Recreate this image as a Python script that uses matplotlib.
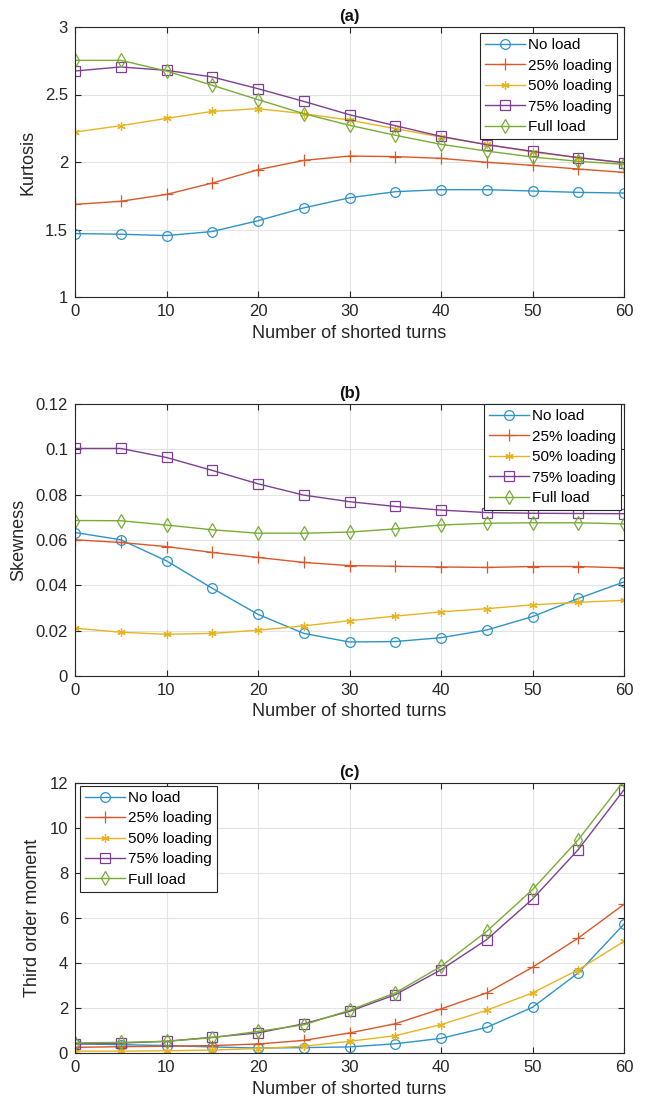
import matplotlib
matplotlib.use("Agg")
import matplotlib.pyplot as plt

plt.rcParams['font.family'] = ['Liberation Sans', 'DejaVu Sans']

turns = [0, 5, 10, 15, 20, 25, 30, 35, 40, 45, 50, 55, 60]
labels = ['No load', '25% loading', '50% loading', '75% loading', 'Full load']

kurt_noload = [1.47, 1.465, 1.455, 1.485, 1.565, 1.66, 1.735, 1.78, 1.795, 1.795, 1.785, 1.775, 1.77]
kurt_25 = [1.686, 1.709, 1.76, 1.844, 1.943, 2.012, 2.044, 2.04, 2.027, 1.998, 1.975, 1.948, 1.923]
kurt_50 = [2.222, 2.269, 2.323, 2.375, 2.395, 2.358, 2.31, 2.247, 2.185, 2.13, 2.074, 2.032, 1.995]
kurt_75 = [2.674, 2.704, 2.679, 2.63, 2.543, 2.449, 2.35, 2.269, 2.19, 2.128, 2.079, 2.032, 1.995]
kurt_full = [2.753, 2.753, 2.674, 2.568, 2.462, 2.358, 2.272, 2.198, 2.131, 2.081, 2.037, 2.005, 1.983]

skew_noload = [0.0633, 0.0601, 0.0508, 0.0387, 0.0272, 0.0188, 0.0150, 0.0152, 0.0169, 0.0203, 0.0262, 0.0342, 0.0415]
skew_25 = [0.0601, 0.0589, 0.0571, 0.0545, 0.0523, 0.0501, 0.0487, 0.0484, 0.0481, 0.0479, 0.0483, 0.0483, 0.0477]
skew_50 = [0.0211, 0.0193, 0.0184, 0.0188, 0.0202, 0.0221, 0.0244, 0.0264, 0.0283, 0.0297, 0.0314, 0.0325, 0.0334]
skew_75 = [0.1004, 0.1004, 0.0964, 0.0907, 0.0848, 0.0798, 0.0769, 0.0748, 0.0732, 0.0721, 0.0718, 0.0717, 0.0716]
skew_full = [0.0686, 0.0685, 0.0666, 0.0645, 0.0630, 0.0630, 0.0635, 0.0649, 0.0666, 0.0674, 0.0676, 0.0676, 0.0671]

third_noload = [0.41, 0.37, 0.33, 0.27, 0.22, 0.24, 0.27, 0.41, 0.65, 1.14, 2.03, 3.56, 5.73]
third_25 = [0.25, 0.28, 0.30, 0.33, 0.40, 0.56, 0.89, 1.30, 1.96, 2.67, 3.81, 5.11, 6.61]
third_50 = [0.08, 0.08, 0.10, 0.13, 0.20, 0.30, 0.52, 0.77, 1.26, 1.90, 2.67, 3.70, 4.96]
third_75 = [0.41, 0.44, 0.52, 0.70, 0.89, 1.30, 1.85, 2.59, 3.70, 5.04, 6.84, 9.04, 11.70]
third_full = [0.45, 0.47, 0.52, 0.68, 0.96, 1.25, 1.90, 2.67, 3.85, 5.41, 7.26, 9.48, 12.10]

colors = ['#2f93c6', '#d8582a', '#e6b422', '#7e3f93', '#78ad35']
markers = ['o', '+', (6, 2, 0), 's', 'd']
msizes = [7, 9, 6, 7, 7]

W, H = 645, 1108
fig = plt.figure(figsize=(W / 100, H / 100), dpi=100)

def px_axes(left, top, right, bottom):
    return fig.add_axes([left / W, 1 - bottom / H, (right - left) / W, (bottom - top) / H])

panels = [
    dict(box=(75, 27, 624, 297), title='(a)', ylabel='Kurtosis',
         series=[kurt_noload, kurt_25, kurt_50, kurt_75, kurt_full],
         ylim=(1, 3), yticks=[1, 1.5, 2, 2.5, 3], yticklabels=['1', '1.5', '2', '2.5', '3'],
         leg=dict(loc='upper right', bbox_to_anchor=(0.988, 0.978))),
    dict(box=(75, 404, 624, 676), title='(b)', ylabel='Skewness',
         series=[skew_noload, skew_25, skew_50, skew_75, skew_full],
         ylim=(0, 0.12), yticks=[0, 0.02, 0.04, 0.06, 0.08, 0.1, 0.12],
         yticklabels=['0', '0.02', '0.04', '0.06', '0.08', '0.1', '0.12'],
         leg=dict(loc='upper right', bbox_to_anchor=(0.995, 1.0))),
    dict(box=(75, 783, 624, 1053), title='(c)', ylabel='Third order moment',
         series=[third_noload, third_25, third_50, third_75, third_full],
         ylim=(0, 12), yticks=[0, 2, 4, 6, 8, 10, 12],
         yticklabels=['0', '2', '4', '6', '8', '10', '12'],
         leg=dict(loc='upper left', bbox_to_anchor=(0.009, 0.99))),
]

for p in panels:
    ax = px_axes(*p['box'])
    for vals, c, m, ms, lab in zip(p['series'], colors, markers, msizes, labels):
        ax.plot(turns, vals, color=c, marker=m, markersize=ms, markerfacecolor='none',
                markeredgecolor=c, markeredgewidth=0.9, linewidth=1.0, label=lab)
    ax.set_xlim(0, 60)
    ax.set_ylim(*p['ylim'])
    ax.set_xticks([0, 10, 20, 30, 40, 50, 60])
    ax.set_yticks(p['yticks'])
    ax.set_yticklabels(p['yticklabels'])
    ax.grid(True, color='#e3e3e3', linewidth=0.8)
    ax.set_axisbelow(True)
    ax.tick_params(direction='in', top=True, right=True, labelsize=12, length=4,
                   width=0.8, colors='#262626', pad=5)
    for s in ax.spines.values():
        s.set_color('#262626')
        s.set_linewidth(0.8)
    ax.set_title(p['title'], fontsize=12, fontweight='bold', pad=4, color='#111111')
    ax.set_ylabel(p['ylabel'], fontsize=13, color='#262626', labelpad=6)
    ax.set_xlabel('Number of shorted turns', fontsize=13, color='#262626', labelpad=4)
    leg = ax.legend(fontsize=11, frameon=True, fancybox=False, framealpha=1,
                    edgecolor='#262626', borderpad=0.35, labelspacing=0.42,
                    handlelength=2.6, handletextpad=0.2, borderaxespad=0.0,
                    **p['leg'])
    leg.get_frame().set_linewidth(0.8)

fig.savefig('out.png', dpi=100)
